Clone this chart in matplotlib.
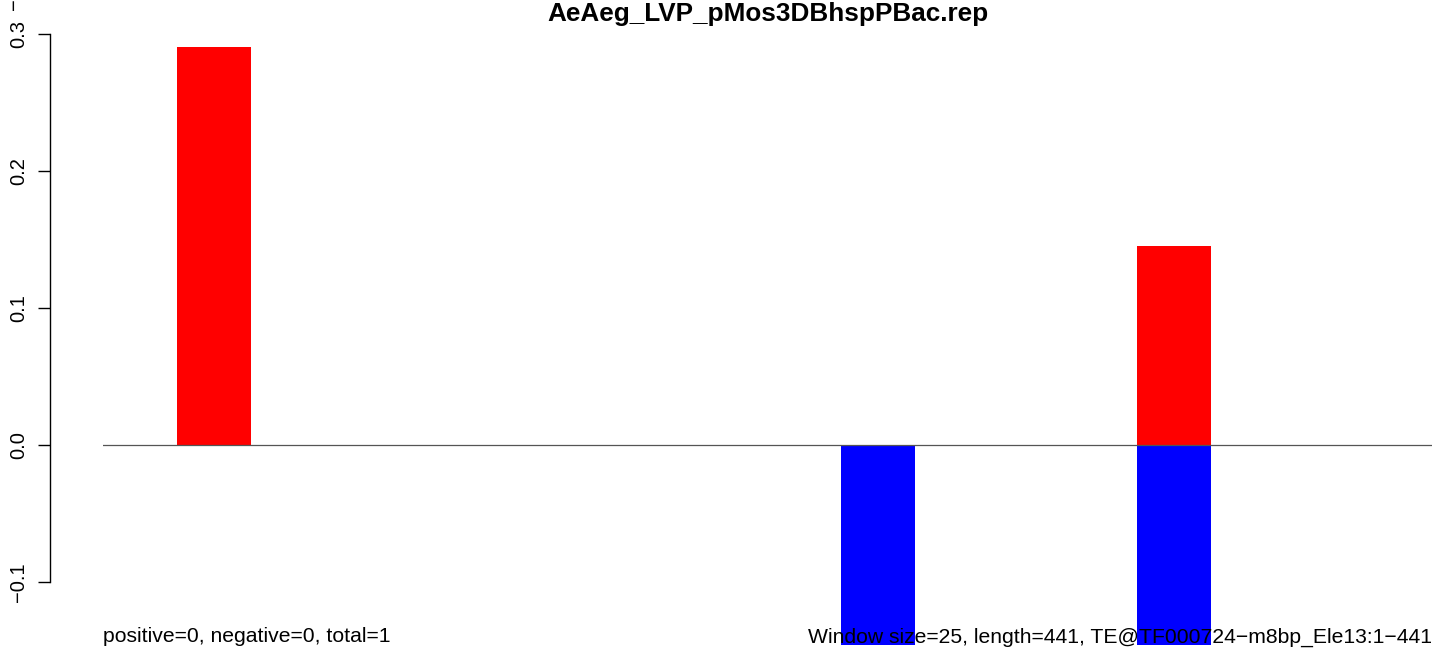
#!/usr/bin/env python3
"""Window bar plot of positive / negative scores along a TE element."""
import numpy as np
import matplotlib
matplotlib.use("Agg")
import matplotlib.pyplot as plt

plt.rcParams['font.family'] = ['Liberation Sans', 'DejaVu Sans']

# ---------------- data ----------------
title = "AeAeg_LVP_pMos3DBhspPBac.rep"
n_windows = 18
window_idx = np.arange(n_windows)
# positive (red) and negative (blue) value per window
pos_vals = np.array([0, 0.2905, 0, 0, 0, 0, 0, 0, 0, 0,
                     0, 0, 0, 0, 0.1455, 0, 0, 0])
neg_vals = np.array([0, 0, 0, 0, 0, 0, 0, 0, 0, 0,
                     -0.146, 0, 0, 0, -0.146, 0, 0, 0])
yticks = [-0.1, 0.0, 0.1, 0.2, 0.3]
ytick_labels = ["\u22120.1", "0.0", "0.1", "0.2", "0.3"]
left_note = "positive=0, negative=0, total=1"
right_note = "Window size=25, length=441, TE@TF000724\u2212m8bp_Ele13:1\u2212441"

W, H = 1444, 666
fig = plt.figure(figsize=(W / 100, H / 100), dpi=100)
ax = fig.add_axes([103 / W, (H - 645) / H, 1329 / W, 611 / H])

# bars
ax.bar(window_idx, pos_vals, width=1, align='edge', color='#ff0000', linewidth=0)
ax.bar(window_idx, neg_vals, width=1, align='edge', color='#0000ff', linewidth=0)
ax.axhline(0, color='#555555', linewidth=0.9)

ax.set_xlim(0, n_windows)
ax.set_ylim(-0.146, 0.3)

# R style axis (offsets in points: 1 px = 0.72 pt at dpi 100)
for s in ['top', 'right', 'bottom']:
    ax.spines[s].set_visible(False)
ax.spines['left'].set_position(('outward', 53 * 0.72))
ax.spines['left'].set_bounds(-0.1, 0.3)
ax.spines['left'].set_linewidth(1.0)
ax.set_xticks([])
ax.set_yticks(yticks)
ax.set_yticklabels(ytick_labels, rotation=90, va='center', fontsize=14.5)
ax.tick_params(axis='y', length=9, width=1.0, pad=7)

fig.text((103 + 1432) / 2 / W, (H - 14) / H, title, ha='center', va='center',
         fontsize=18.8, fontweight='bold')
fig.text(103 / W, (H - 637) / H, left_note, ha='left', va='center',
         fontsize=15.2)
fig.text(1432 / W, (H - 637) / H, right_note, ha='right', va='center',
         fontsize=15.2, zorder=10)
fig.text(14 / W, (H - 4) / H, "\u2212", rotation=90, ha='center', va='center',
         fontsize=14.5)

fig.savefig("out.png", dpi=100)
